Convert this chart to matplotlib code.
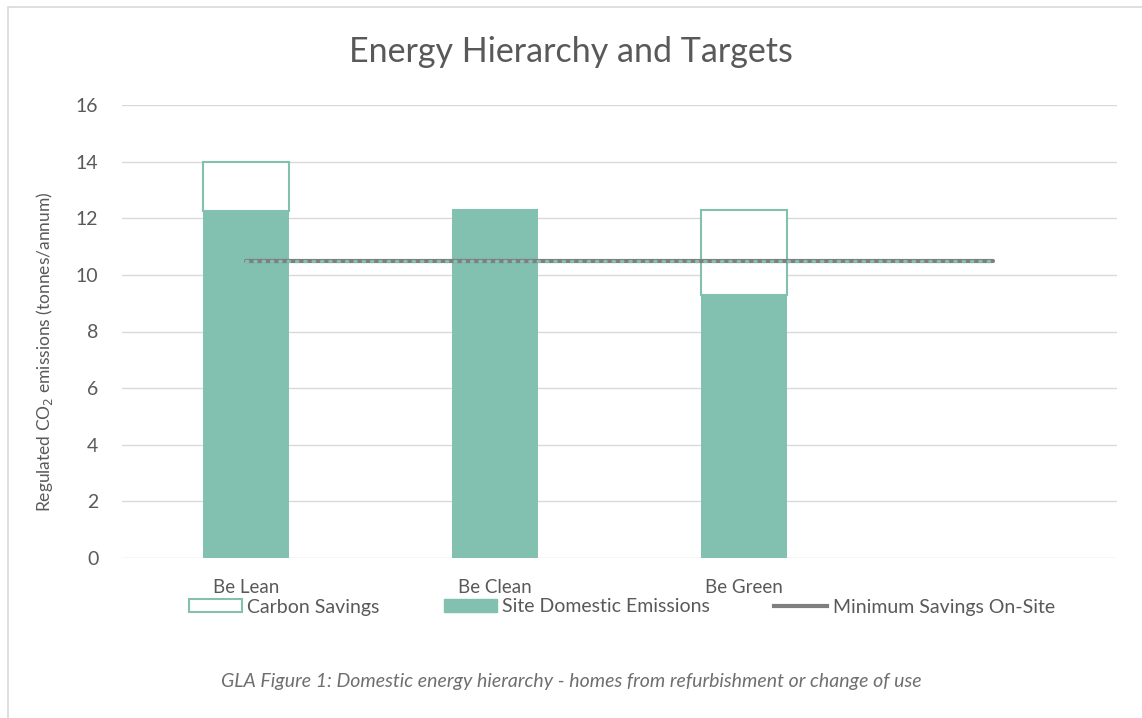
import matplotlib
matplotlib.use('Agg')
import matplotlib.pyplot as plt
import numpy as np
from matplotlib.patches import Rectangle, Patch
from matplotlib.lines import Line2D

plt.rcParams['font.family'] = ['Lato', 'DejaVu Sans']

categories = ['Be Lean', 'Be Clean', 'Be Green', '']
site_emissions = [12.25, 12.3, 9.3]
carbon_savings = [1.75, 0.0, 3.0]
min_savings = [10.5, 10.5, 10.5, 10.5]

teal = '#82C0AF'
grey_txt = '#595959'

fig = plt.figure(figsize=(11.42, 7.18), dpi=100)
# outer chart border (only left and top visible in the crop)
fig.patches.append(Rectangle((8 / 1142, -0.1), 1.2, 1 - 7 / 718 + 0.1, transform=fig.transFigure,
                             fill=False, edgecolor='#d9d9d9', lw=1.2))

ax = fig.add_axes([122 / 1142, 1 - 558 / 718, (1117 - 122) / 1142, (558 - 105) / 718])
x = np.arange(len(categories))
xb = x[:len(site_emissions)]
w = 0.345
ax.bar(xb, site_emissions, width=w, color=teal, zorder=3)
ax.bar(xb, carbon_savings, width=w, bottom=site_emissions, facecolor='white',
       edgecolor=teal, lw=1.5, zorder=3)
ax.plot(x, min_savings, color='#7f7f7f', lw=3, zorder=4, solid_capstyle='round')
ax.plot(x, min_savings, color=teal, lw=2.4, ls=(0, (0.4, 2.1)), zorder=5, dash_capstyle='round')

ax.set_xlim(-0.5, 3.5)
ax.set_ylim(0, 16)
ax.set_yticks(range(0, 17, 2))
ax.yaxis.grid(True, color='#d9d9d9', lw=1)
ax.set_axisbelow(True)
for s in ax.spines.values():
    s.set_visible(False)
ax.tick_params(axis='both', length=0, colors=grey_txt)
ax.tick_params(axis='y', pad=17, labelsize=14)
ax.set_xticks(x)
ax.set_xticklabels(categories, fontsize=13.5)
ax.tick_params(axis='x', pad=15)
ax.set_ylabel('Regulated CO$_2$ emissions (tonnes/annum)', color=grey_txt, fontsize=12.5)
ax.yaxis.set_label_coords((55 - 122) / (1117 - 122), 0.455)

fig.text(0.5, 1 - 52 / 718, 'Energy Hierarchy and Targets', ha='center', va='center',
         fontsize=24.5, color=grey_txt)

handles = [Patch(facecolor='white', edgecolor=teal, lw=1.5),
           Patch(facecolor=teal, edgecolor=teal),
           Line2D([0], [0], color='#7f7f7f', lw=3)]
labels = ['Carbon Savings', 'Site Domestic Emissions', 'Minimum Savings On-Site']
fig.legend(handles, labels, loc='center', bbox_to_anchor=(622 / 1142, 1 - 607 / 718), ncol=3,
           frameon=False, fontsize=14, labelcolor=grey_txt, columnspacing=3.3,
           handlelength=2.7, handleheight=0.6, handletextpad=0.3, borderaxespad=0)

fig.text(0.5, 1 - 682 / 718,
         'GLA Figure 1: Domestic energy hierarchy - homes from refurbishment or change of use',
         ha='center', va='center', fontsize=14, style='italic', color='#6f6f6f')

fig.savefig('out.png', dpi=100)
